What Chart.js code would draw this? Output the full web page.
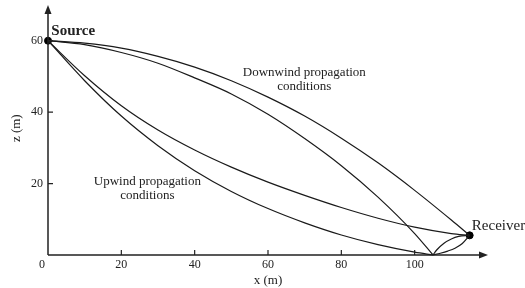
<!DOCTYPE html>
<html>
<head>
<meta charset="utf-8">
<script src="https://cdn.jsdelivr.net/npm/chart.js@4"></script>
<style>
  body { margin: 0; background: #fff; }
  #wrap { position: relative; width: 525px; height: 288px; }
</style>
</head>
<body>
<div id="wrap"><canvas id="rays"></canvas></div>
<script>
// Ray paths, values (x and z in metres)
const downDirectX = [0, 10, 20, 30, 40, 50, 60, 70, 80, 90, 100, 110, 115];
const downDirectZ = [60, 59.3, 57.9, 55.6, 52.6, 48.8, 44.2, 38.9, 32.7, 25.8, 18.1, 9.8, 5.5];

const downReflX = [0, 10, 20, 30, 40, 50, 60, 70, 80, 90, 100, 105];
const downReflZ = [60, 58.9, 56.7, 53.7, 49.6, 45.1, 39.4, 32.6, 25.0, 16.2, 6.0, 0];

const upDirectX = [0, 10, 20, 30, 40, 50, 60, 70, 80, 90, 100, 110, 115];
const upDirectZ = [60, 50.2, 41.8, 35.0, 29.4, 24.6, 20.4, 16.7, 13.3, 10.3, 7.8, 6.0, 5.5];

const upReflX = [0, 10, 20, 30, 40, 50, 60, 70, 80, 90, 100, 105];
const upReflZ = [60, 48.8, 38.9, 30.6, 23.6, 17.8, 13.0, 9.0, 5.6, 2.9, 0.8, 0];

// short arcs from the ground bounce up to the receiver
const bounceUpX = [105, 106, 108, 110, 112, 115];
const bounceUpZ = [0, 1.4, 3.3, 4.5, 5.2, 5.5];
const bounceLowX = [105, 107, 109, 111, 113, 115];
const bounceLowZ = [0, 0.5, 1.1, 1.9, 3.2, 5.5];

const endpointsX = [0, 115];
const endpointsZ = [60, 5.5];

const xTicks = [0, 20, 40, 60, 80, 100];
const zTicks = [20, 40, 60];

const notes = [
  { text: 'Source', x: 0.9, z: 62.6, bold: true, size: 15, align: 'left' },
  { text: 'Receiver', x: 115.6, z: 8.1, bold: false, size: 15, align: 'left' },
  { text: 'Downwind propagation', x: 69.9, z: 51.2, bold: false, size: 13, align: 'center' },
  { text: 'conditions', x: 69.9, z: 47.1, bold: false, size: 13, align: 'center' },
  { text: 'Upwind propagation', x: 27.1, z: 20.6, bold: false, size: 13, align: 'center' },
  { text: 'conditions', x: 27.1, z: 16.6, bold: false, size: 13, align: 'center' }
];

const SERIF = '"Liberation Serif", "DejaVu Serif", serif';

const toPoints = (xs, zs) => xs.map((x, i) => ({ x: x, y: zs[i] }));

const ray = (xs, zs) => ({
  data: toPoints(xs, zs),
  showLine: true,
  borderColor: '#1a1a1a',
  borderWidth: 1.2,
  pointRadius: 0,
  cubicInterpolationMode: 'monotone',
  clip: false
});

// axes with arrows, inward ticks and text notes
const figureText = {
  id: 'figureText',
  afterDatasetsDraw(chart) {
    const { ctx, chartArea, scales } = chart;
    const xs = scales.x, ys = scales.y;
    const x0 = xs.getPixelForValue(0);
    const y0 = ys.getPixelForValue(0);

    ctx.save();
    ctx.strokeStyle = '#222';
    ctx.fillStyle = '#222';
    ctx.lineWidth = 1.5;

    // axis lines
    ctx.beginPath();
    ctx.moveTo(x0, y0);
    ctx.lineTo(x0, chartArea.top + 4);
    ctx.moveTo(x0, y0);
    ctx.lineTo(chartArea.right - 4, y0);
    ctx.stroke();

    // arrow heads
    ctx.beginPath();
    ctx.moveTo(x0, chartArea.top);
    ctx.lineTo(x0 - 3.5, chartArea.top + 9);
    ctx.lineTo(x0 + 3.5, chartArea.top + 9);
    ctx.closePath();
    ctx.fill();
    ctx.beginPath();
    ctx.moveTo(chartArea.right, y0);
    ctx.lineTo(chartArea.right - 9, y0 - 3.5);
    ctx.lineTo(chartArea.right - 9, y0 + 3.5);
    ctx.closePath();
    ctx.fill();

    // ticks
    ctx.lineWidth = 1.2;
    ctx.beginPath();
    xTicks.forEach(v => {
      if (v === 0) return;
      const px = xs.getPixelForValue(v);
      ctx.moveTo(px, y0);
      ctx.lineTo(px, y0 - 5);
    });
    zTicks.forEach(v => {
      const py = ys.getPixelForValue(v);
      ctx.moveTo(x0, py);
      ctx.lineTo(x0 + 5, py);
    });
    ctx.stroke();

    // tick labels
    ctx.font = '12px ' + SERIF;
    ctx.textBaseline = 'middle';
    ctx.textAlign = 'center';
    xTicks.forEach(v => {
      const px = v === 0 ? x0 - 6 : xs.getPixelForValue(v);
      ctx.fillText(String(v), px, y0 + 10);
    });
    ctx.textAlign = 'right';
    zTicks.forEach(v => {
      ctx.fillText(String(v), x0 - 5, ys.getPixelForValue(v));
    });

    // axis titles
    ctx.font = '13px ' + SERIF;
    ctx.textAlign = 'center';
    ctx.fillText('x (m)', xs.getPixelForValue(60), y0 + 26);
    ctx.save();
    ctx.translate(17, ys.getPixelForValue(35.5));
    ctx.rotate(-Math.PI / 2);
    ctx.fillText('z (m)', 0, 0);
    ctx.restore();

    // notes
    notes.forEach(n => {
      ctx.font = (n.bold ? 'bold ' : '') + n.size + 'px ' + SERIF;
      ctx.textAlign = n.align;
      ctx.fillText(n.text, xs.getPixelForValue(n.x), ys.getPixelForValue(n.z));
    });
    ctx.restore();
  }
};

new Chart(document.getElementById('rays'), {
  type: 'scatter',
  data: {
    datasets: [
      ray(downDirectX, downDirectZ),
      ray(downReflX, downReflZ),
      ray(upDirectX, upDirectZ),
      ray(upReflX, upReflZ),
      ray(bounceUpX, bounceUpZ),
      ray(bounceLowX, bounceLowZ),
      {
        data: toPoints(endpointsX, endpointsZ),
        pointRadius: 3.5,
        pointBackgroundColor: '#000',
        pointBorderColor: '#000',
        showLine: false,
        clip: false
      }
    ]
  },
  options: {
    responsive: true,
    maintainAspectRatio: false,
    animation: false,
    layout: { padding: { left: 48, right: 37, top: 5, bottom: 33 } },
    plugins: { legend: { display: false }, tooltip: { enabled: false } },
    scales: {
      x: { type: 'linear', min: 0, max: 120, display: false },
      y: { type: 'linear', min: 0, max: 70, display: false }
    }
  },
  plugins: [figureText]
});
</script>
</body>
</html>
